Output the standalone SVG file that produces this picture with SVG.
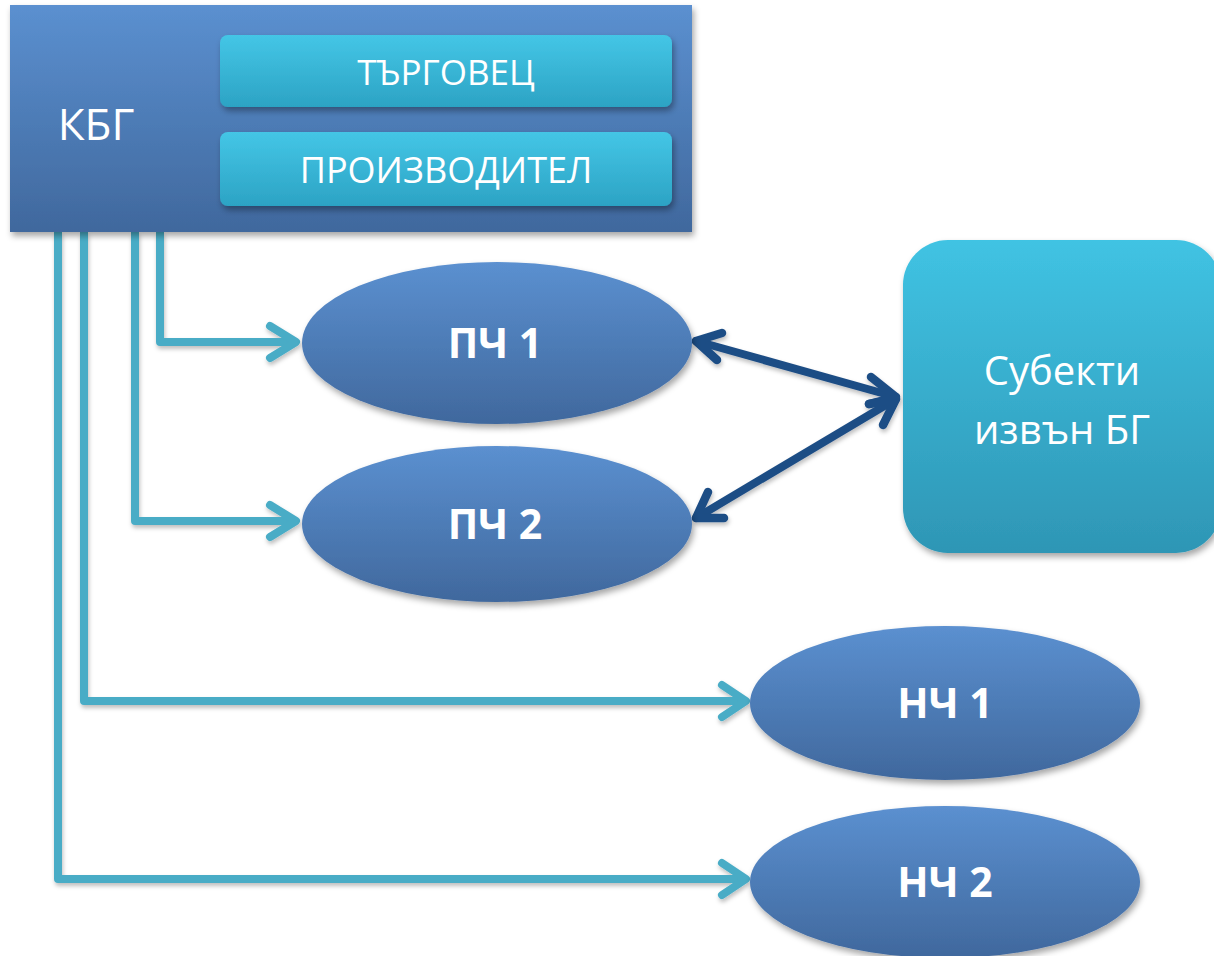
<svg xmlns="http://www.w3.org/2000/svg" width="1214" height="956" viewBox="0 0 1214 956">
<defs>
<linearGradient id="gBlue" x1="0" y1="0" x2="0" y2="1"><stop offset="0" stop-color="#5b90d0"/><stop offset="1" stop-color="#40689d"/></linearGradient>
<linearGradient id="gCyan" x1="0" y1="0" x2="0" y2="1"><stop offset="0" stop-color="#40c3e3"/><stop offset="1" stop-color="#2e96b5"/></linearGradient>
<linearGradient id="gCyanS" x1="0" y1="0" x2="0" y2="1"><stop offset="0" stop-color="#44c6e6"/><stop offset="1" stop-color="#2ca3c4"/></linearGradient>
<filter id="sh" x="-10%" y="-10%" width="125%" height="130%"><feDropShadow dx="2" dy="4" stdDeviation="3" flood-color="#000" flood-opacity="0.35"/></filter>
<filter id="shl" x="-10%" y="-10%" width="125%" height="130%"><feDropShadow dx="1" dy="3" stdDeviation="2" flood-color="#000" flood-opacity="0.25"/></filter>
</defs>
<style>
.lbl{font-family:"Open Sans","Noto Sans","DejaVu Sans",sans-serif;fill:#fff;text-anchor:middle}
.b{font-weight:bold;font-size:41px}
.cy{fill:none;stroke:#4aacc6;stroke-width:8;stroke-linejoin:round}
.ah{fill:none;stroke:#4aacc6;stroke-width:8;stroke-linecap:round;stroke-linejoin:round}
.db{fill:none;stroke:#1f4e85;stroke-width:8;stroke-linecap:round}
.dh{fill:none;stroke:#1f4e85;stroke-width:8.5;stroke-linecap:round;stroke-linejoin:round}
</style>
<g id="connectors" filter="url(#shl)">
<polyline class="cy" points="160,232 160,342 290,342"/>
<path class="ah" d="M270 326 L296 342 L270 358"/>
<polyline class="cy" points="135,232 135,521 290,521"/>
<path class="ah" d="M270 505 L296 521 L270 537"/>
<polyline class="cy" points="84,232 84,701 740,701"/>
<path class="ah" d="M722 685 L746 701 L722 717"/>
<polyline class="cy" points="58,232 58,879 740,879"/>
<path class="ah" d="M722 863 L746 879 L722 895"/>
<line class="db" x1="696" y1="341" x2="896" y2="397"/>
<path class="dh" d="M722 333 L696 341 L717 360"/>
<path class="dh" d="M871 377 L896 397 L869 404"/>
<line class="db" x1="696" y1="518" x2="896" y2="399"/>
<path class="dh" d="M708 492 L696 518 L724 518"/>
<path class="dh" d="M869 404 L896 399 L883 425"/>
</g>
<g id="kbg">
<rect x="10" y="5" width="682" height="227" fill="url(#gBlue)" filter="url(#sh)"/>
<text class="lbl" x="96" y="140" font-size="44">КБГ</text>
</g>
<g id="targovets">
<rect x="220" y="35" width="452" height="72" rx="8" fill="url(#gCyanS)" filter="url(#sh)"/>
<text class="lbl" x="446" y="85" font-size="35">ТЪРГОВЕЦ</text>
</g>
<g id="proizvoditel">
<rect x="220" y="132" width="452" height="74" rx="8" fill="url(#gCyanS)" filter="url(#sh)"/>
<text class="lbl" x="446" y="183" font-size="36">ПРОИЗВОДИТЕЛ</text>
</g>
<g id="pch1">
<ellipse cx="497" cy="343" rx="195" ry="81" fill="url(#gBlue)" filter="url(#sh)"/>
<text class="lbl b" x="495" y="358">ПЧ 1</text>
</g>
<g id="pch2">
<ellipse cx="497" cy="524" rx="195" ry="78" fill="url(#gBlue)" filter="url(#sh)"/>
<text class="lbl b" x="495" y="539">ПЧ 2</text>
</g>
<g id="nch1">
<ellipse cx="945" cy="703" rx="195" ry="77" fill="url(#gBlue)" filter="url(#sh)"/>
<text class="lbl b" x="945" y="718">НЧ 1</text>
</g>
<g id="nch2">
<ellipse cx="945" cy="882" rx="195" ry="76" fill="url(#gBlue)" filter="url(#sh)"/>
<text class="lbl b" x="945" y="897">НЧ 2</text>
</g>
<g id="subekti">
<rect x="903" y="240" width="318" height="313" rx="45" fill="url(#gCyan)" filter="url(#sh)"/>
<text class="lbl" x="1062" y="385" font-size="40">Субекти</text>
<text class="lbl" x="1062" y="444" font-size="40">извън БГ</text>
</g>
</svg>
